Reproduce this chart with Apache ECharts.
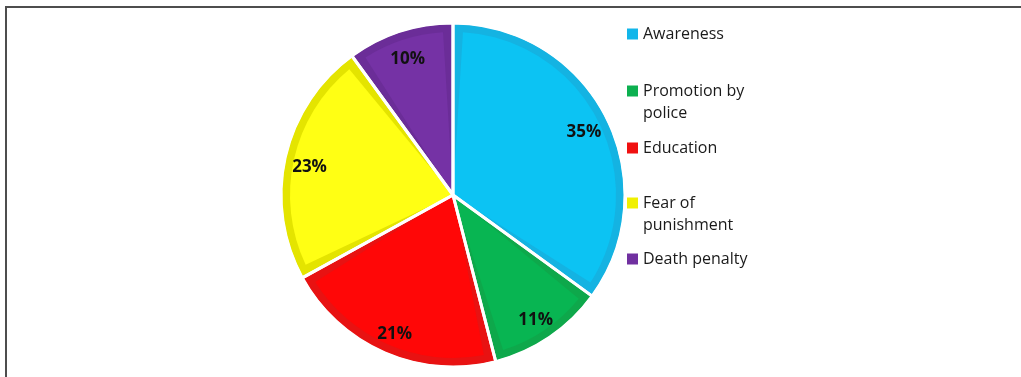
<!DOCTYPE html>
<html>
<head>
<meta charset="utf-8">
<script src="https://cdn.jsdelivr.net/npm/echarts@6/dist/echarts.min.js"></script>
<style>
  html, body { margin: 0; padding: 0; background: #fff; }
  #wrap { position: relative; width: 1021px; height: 377px; overflow: hidden; }
  #frame { position: absolute; left: 5px; top: 6px; right: -4px; bottom: -4px;
           border-left: 2px solid #4d4d4d; border-top: 2px solid #4d4d4d; }
  #chart { position: absolute; left: 0; top: 0; width: 1021px; height: 377px; }
</style>
</head>
<body>
<div id="wrap">
  <div id="frame"></div>
  <div id="chart"></div>
</div>
<script>
// Reasons given, share of respondents (%)
const categories = ['Awareness', 'Promotion by police', 'Education', 'Fear of punishment', 'Death penalty'];
// legend text; wrapped names get a leading empty line so the swatch sits beside their first line
const legendLabels = ['Awareness', '\nPromotion by\npolice', 'Education', '\nFear of\npunishment', 'Death penalty'];
const values = [35, 11, 21, 23, 10];

// Fill colours: edge band (darker) and face (lighter) of each slice
const edgeColors = ['#14b3e2', '#0ea84b', '#e81212', '#e4e400', '#6b2d98'];
const faceColors = ['#0cc3f3', '#08b552', '#ff0707', '#ffff14', '#7532a5'];
const legendColors = ['#12b6ea', '#0cb050', '#f01010', '#f0f000', '#7030a0'];

const chart = echarts.init(document.getElementById('chart'), null, { renderer: 'canvas' });

const CENTER = [453, 195];
const R = 171;

function seriesData(colors) {
  return categories.map((name, i) => ({
    name: name,
    value: values[i],
    itemStyle: colors ? { color: colors[i] } : undefined
  }));
}

// Legend entries, one block per category
const legendTops = [23, 58, 137, 170, 248];
const legends = categories.map((name, i) => ({
  left: 627,
  top: legendTops[i],
  padding: 0,
  orient: 'vertical',
  itemWidth: 11,
  itemHeight: 11,
  itemGap: 5,
  icon: 'rect',
  selectedMode: false,
  formatter: () => legendLabels[i],
  textStyle: {
    fontFamily: 'Open Sans',
    fontSize: 16,
    color: '#1a1a1a',
    lineHeight: 22
  },
  data: [{ name: name, itemStyle: { color: legendColors[i] } }]
}));

chart.setOption({
  animation: false,
  legend: legends,
  series: [
    {
      // outer band colour of each slice
      type: 'pie',
      center: CENTER,
      radius: [0, R],
      startAngle: 90,
      clockwise: true,
      label: { show: false },
      labelLine: { show: false },
      emphasis: { disabled: true },
      itemStyle: { borderWidth: 0 },
      data: seriesData(edgeColors)
    },
    {
      // lighter face inside the band
      type: 'pie',
      center: CENTER,
      radius: [0, R - 8],
      startAngle: 90,
      clockwise: true,
      padAngle: 7,
      label: { show: false },
      labelLine: { show: false },
      emphasis: { disabled: true },
      itemStyle: { borderWidth: 0 },
      data: seriesData(faceColors)
    },
    {
      // white separators between slices
      type: 'pie',
      center: CENTER,
      radius: [0, R + 1],
      startAngle: 90,
      clockwise: true,
      label: { show: false },
      labelLine: { show: false },
      emphasis: { disabled: true },
      itemStyle: { color: 'rgba(0,0,0,0)', borderColor: '#ffffff', borderWidth: 3 },
      data: seriesData(null)
    },
    {
      // percentage labels
      type: 'pie',
      center: CENTER,
      radius: [116, R + 1],
      startAngle: 90,
      clockwise: true,
      labelLine: { show: false },
      emphasis: { disabled: true },
      itemStyle: { color: 'rgba(0,0,0,0)', borderWidth: 0 },
      label: {
        show: true,
        position: 'inside',
        offset: [0, 4],
        formatter: (p) => p.value + '%',
        fontFamily: 'Open Sans',
        fontWeight: 'bold',
        fontSize: 17,
        color: '#111'
      },
      data: seriesData(null)
    }
  ]
});
</script>
</body>
</html>
